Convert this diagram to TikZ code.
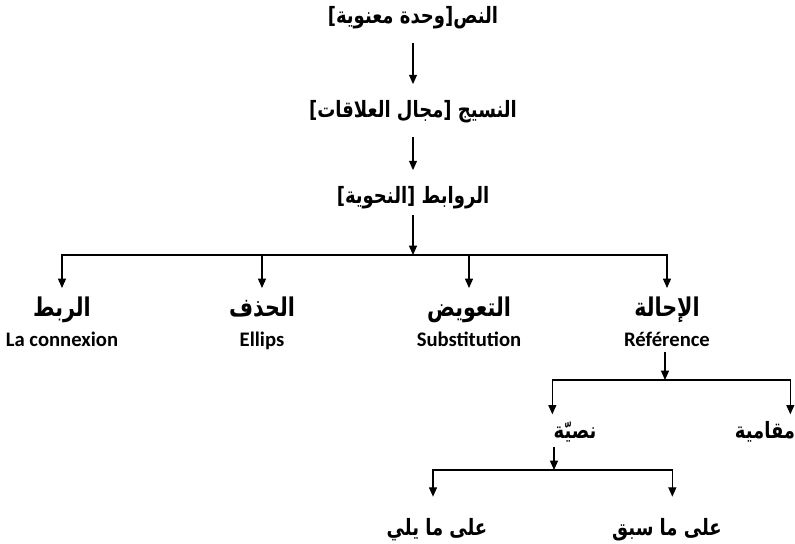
\documentclass[tikz,border=0pt]{standalone}
\usepackage{fontspec}
\usepackage{graphicx}
\setmainfont{Carlito}
\newfontfamily\arabicfont[Script=Arabic,BoldFont={DejaVu Sans Bold}]{DejaVu Sans}
\TeXXeTstate=1
\usetikzlibrary{arrows.meta,calc,positioning}
\newcommand{\ar}[1]{\scalebox{1}[1.25]{\arabicfont\bfseries\beginR #1\endR}}

\begin{document}
\begin{tikzpicture}[x=0.75pt,y=-0.75pt,line width=0.9pt,
  >={Triangle[length=7pt,width=6pt]},
  lbl/.style={inner sep=0pt,align=center,font=\bfseries\fontsize{15.5}{23}\selectfont},
  arb/.style={inner sep=0pt,font=\fontsize{13.5}{16}\selectfont}]
\useasboundingbox (0,0) rectangle (795,543);
\node[arb] (nass) at (413,18) {\ar{النص[وحدة معنوية]}};
\node[arb] (nasij) at (413,112) {\ar{النسيج [مجال العلاقات]}};
\node[arb] (rawabit) at (413,198) {\ar{الروابط [النحوية]}};
\draw[->,shorten <=10pt,shorten >=12pt] (nass) -- (nasij);
\draw[->,shorten <=10pt,shorten >=12pt] (nasij) -- (rawabit);
\node[lbl,anchor=north] (rabt) at (62,296) {\ar{الربط}\\La connexion};
\node[lbl,anchor=north] (hadhf) at (262,296) {\ar{الحذف}\\Ellips};
\node[lbl,anchor=north] (taawid) at (469,296) {\ar{التعويض}\\Substitution};
\node[lbl,anchor=north] (ihala) at (667,296) {\ar{الإحالة}\\Référence};
\coordinate (bus1) at (413,255);
\draw[->,shorten <=4pt] (rawabit) -- (bus1);
\foreach \n in {rabt,hadhf,taawid,ihala}
  \draw[->,shorten >=6pt] (bus1) -| (\n.north);
\node[arb,anchor=north] (nassiya) at (575,421) {\ar{نصيّة}};
\node[arb,anchor=north] (maqamiya) at (765,421) {\ar{مقامية}};
\coordinate (bus2) at (665,380);
\draw[->,shorten <=3pt] (ihala.south -| bus2) -- (bus2);
\draw[->,shorten >=5pt] (bus2) -| ([xshift=-17pt]nassiya.north);
\draw[->,shorten >=5pt] (bus2) -| ([xshift=19pt]maqamiya.north);
\coordinate (bus3) at (554,470);
\draw[->,shorten <=3pt] (nassiya.south -| bus3) -- (bus3);
\node[arb,anchor=north] (yali) at (437,518) {\ar{على ما يلي}};
\node[arb,anchor=north] (sabaq) at (667,518) {\ar{على ما سبق}};
\draw[->,shorten >=16pt] (bus3) -| ([xshift=-3pt]yali.north);
\draw[->,shorten >=16pt] (bus3) -| ([xshift=4pt]sabaq.north);
\end{tikzpicture}
\end{document}
